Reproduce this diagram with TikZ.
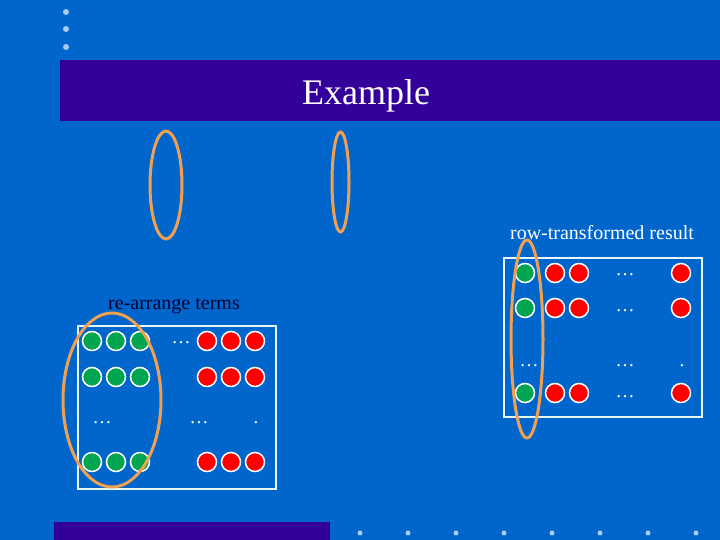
\documentclass[tikz,border=0pt]{standalone}
\usepackage{fontspec}
\setmainfont{Liberation Serif}
\definecolor{bg}{HTML}{0066CC}
\definecolor{bar}{HTML}{330099}
\definecolor{orng}{HTML}{F0A050}
\definecolor{ldot}{HTML}{A8CCF0}
\definecolor{grn}{HTML}{00A550}
\definecolor{rd}{HTML}{FF0000}
\definecolor{navy}{HTML}{000033}
\tikzset{
  gc/.style={circle,fill=grn,draw=white,line width=1.5pt,minimum size=19pt,inner sep=0pt},
  rc/.style={circle,fill=rd,draw=white,line width=1.5pt,minimum size=19pt,inner sep=0pt},
  dts/.style={text=white,font=\fontsize{19}{19}\selectfont,inner sep=0pt},
  ring/.style={draw=orng,line width=3pt},
  framebox/.style={draw=white!90!cyan,line width=1.5pt},
  ld/.style={circle,fill=ldot,inner sep=0pt,minimum size=6pt}
}
\begin{document}
\begin{tikzpicture}[x=1pt,y=-1pt]
\fill[bg] (0,0) rectangle (720,540);
\useasboundingbox (0,0) rectangle (720,540);
% top dots
\node[ld] (d1) at (66,12) {};
\node[ld] (d2) at (66,29) {};
\node[ld] (d3) at (66,47) {};
% title bar
\fill[bar] (60,60) rectangle (720,121);
\node[text=white,font=\fontsize{36}{36}\selectfont] (title) at (366,96) {Example};
% bottom bar and dots
\fill[bar] (54,522) rectangle (330,540);
\foreach \i/\x in {1/360,2/408,3/456,4/504,5/552,6/600,7/648,8/696}
  \node[ld,minimum size=5pt] (b\i) at (\x,533) {};
% top ellipses
\draw[ring] (166,185) ellipse [x radius=16,y radius=54];
\draw[ring] (340.5,182) ellipse [x radius=8.5,y radius=50];
% left box
\node[text=navy,font=\fontsize{20}{20}\selectfont] (lt) at (174,306) {re-arrange terms};
\draw[framebox] (78,326) rectangle (276,489);
\foreach \r/\y in {1/341,2/377,3/462}{
  \node[gc] (lg\r a) at (92,\y) {};
  \node[gc] (lg\r b) at (116,\y) {};
  \node[gc] (lg\r c) at (140,\y) {};
  \node[rc] (lr\r a) at (207,\y) {};
  \node[rc] (lr\r b) at (231,\y) {};
  \node[rc] (lr\r c) at (255,\y) {};
}
\node[dts] (ld1) at (181,343) {\ldots};
\node[dts] (ld2) at (102,423) {\ldots};
\node[dts] (ld3) at (199,423) {\ldots};
\node[dts] (ld4) at (256,423) {.};
\draw[ring] (112,400) ellipse [x radius=49,y radius=87];
% right box
\node[text=white,font=\fontsize{20}{20}\selectfont] (rt) at (602,233) {row-transformed result};
\draw[framebox] (504,258) rectangle (702,417);
\foreach \r/\y in {1/273,2/308,3/393}{
  \node[gc] (rg\r) at (525,\y) {};
  \node[rc] (rr\r a) at (555,\y) {};
  \node[rc] (rr\r b) at (579,\y) {};
  \node[rc] (rr\r c) at (681,\y) {};
}
\node[dts] (rd1) at (625,275) {\ldots};
\node[dts] (rd2) at (625,311) {\ldots};
\node[dts] (rd3) at (625,366) {\ldots};
\node[dts] (rd4) at (625,397) {\ldots};
\node[dts] (rd5) at (529,366) {\ldots};
\node[dts] (rd6) at (682,366) {.};
\draw[ring] (527,339) ellipse [x radius=16,y radius=99];
\end{tikzpicture}
\end{document}
